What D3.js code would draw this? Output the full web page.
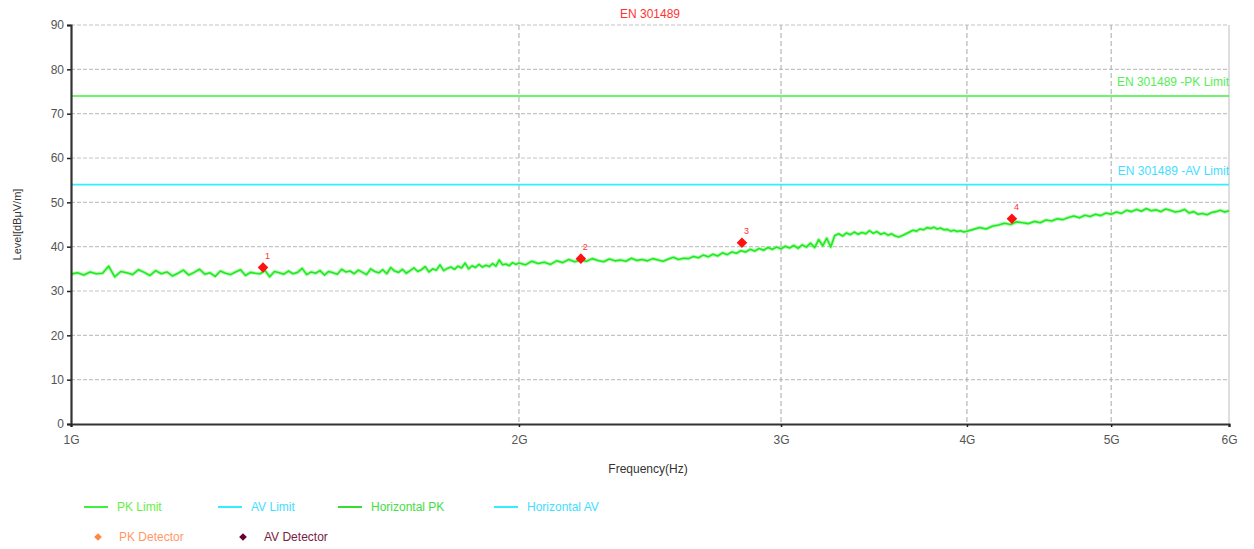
<!DOCTYPE html>
<html>
<head>
<meta charset="utf-8">
<script src="https://cdn.jsdelivr.net/npm/d3@7"></script>
<style>
  body { margin: 0; background: #fff; }
  svg { font-family: "Liberation Sans", Arial, sans-serif; }
</style>
</head>
<body>
<div id="chart"></div>
<script>
// sweep segments: start frequency (MHz), step (MHz) and the levels
const sweep1 = { start: 1000, step: 10 };
const levels1 = [
  33.8, 34.1, 33.6, 34.3, 33.9, 34.0, 35.6, 33.2, 34.4, 34.1,
  33.7, 34.8, 34.2, 33.5, 34.6, 33.9, 34.3, 33.4, 34.0, 34.7,
  33.6, 34.2, 34.9, 33.8, 34.1, 33.3, 34.5, 34.0, 33.7, 34.3,
  34.8, 33.5, 34.2, 34.0, 33.9, 34.6, 33.2, 34.4, 34.1, 33.8,
  34.5, 33.9, 34.2, 35.1, 33.7, 34.3, 34.0, 34.6, 33.6, 34.4,
  34.1, 33.8, 34.9, 34.3, 34.5, 33.9, 34.7, 34.2, 33.7, 35.0,
  34.4, 34.1, 34.8, 33.9, 35.3, 34.5, 34.2, 34.9, 34.0, 34.6,
  35.2, 34.4, 34.8, 35.5, 34.3, 35.0, 34.7, 35.9, 34.6, 35.1,
  35.4, 34.9, 35.6, 35.2, 36.3, 35.0, 35.7, 35.3, 36.0, 35.4,
  35.8, 35.5, 36.2, 35.6, 37.0, 35.9, 36.1, 35.7, 36.4, 36.0
];
const sweep2 = { start: 2000, step: 20 };
const levels2 = [
  36.3, 35.9, 36.7, 36.2, 36.5, 36.0, 36.8, 36.4, 37.1, 36.6,
  37.0, 36.7, 37.3, 36.9, 36.6, 37.2, 36.8, 37.0, 36.7, 37.4,
  36.9, 37.1, 36.8, 37.3, 37.0, 36.7, 37.2, 37.6, 37.1, 37.4,
  37.3, 37.8, 37.5, 38.1, 37.7, 38.3, 37.9, 38.6, 38.2, 38.8,
  38.5, 39.1, 38.8, 39.4, 39.0, 39.6, 39.2, 39.8, 39.4, 39.9,
  39.5, 40.1, 39.7, 40.3, 39.6, 40.4, 39.9, 40.8, 39.8, 41.6,
  40.2, 41.9, 39.9, 42.5, 42.9, 42.4, 43.1, 42.7, 43.3, 42.8,
  43.2, 42.9, 43.6, 43.0, 43.4, 42.8, 43.1, 42.6, 42.9, 42.4,
  42.2, 42.5, 42.9, 43.3, 43.7, 43.5, 44.0, 43.8, 44.3, 44.1,
  44.4, 44.0, 44.2, 43.8, 43.9, 43.5, 43.7, 43.4, 43.6, 43.3
];
const sweep3 = { start: 4000, step: 40 };
const levels3 = [
  43.5, 43.9, 44.3, 44.0, 44.6, 44.9, 45.3, 45.0, 45.6, 45.4,
  45.2, 45.7, 45.4, 46.0, 45.8, 46.3, 46.1, 46.6, 46.9, 46.5,
  47.1, 46.8, 47.3, 47.0, 47.6, 47.3, 47.8, 47.5, 48.2, 47.9,
  48.4, 48.0, 48.6, 48.1, 48.3, 47.9, 48.5, 48.2, 47.8, 48.0,
  48.4, 47.6, 47.9, 47.3, 47.5, 47.2, 47.7, 47.9, 48.2, 47.8, 48.1
];

// limits (dBuV/m)
const pkLimit = 74;
const avLimit = 54;

// peak detector markers
const markerIds = [1, 2, 3, 4];
const markerFreqs = [1346, 2201, 2824, 4288];   // MHz
const markerLevels = [35.3, 37.3, 40.9, 46.3];

const xTicks = [1, 2, 3, 4, 5, 6];               // GHz
const yTicks = [0, 10, 20, 30, 40, 50, 60, 70, 80, 90];

const green = "#3cf03c";
const cyan = "#33eeff";

const W = 1254, H = 549;
const margin = { top: 25, right: 25, bottom: 125, left: 71 };
const w = W - margin.left - margin.right;
const h = H - margin.top - margin.bottom;

const svg = d3.select("#chart").append("svg")
  .attr("width", W).attr("height", H);

const g = svg.append("g")
  .attr("transform", `translate(${margin.left},${margin.top})`);

const x = d3.scaleLog().domain([1e9, 6e9]).range([0, w]);
const y = d3.scaleLinear().domain([0, 90]).range([h, 0]);

// build trace from sweep segments
const trace = [];
[[sweep1, levels1], [sweep2, levels2], [sweep3, levels3]].forEach(([s, lv]) => {
  lv.forEach((v, i) => trace.push({ f: (s.start + i * s.step) * 1e6, v }));
});

// horizontal grid
g.append("g")
  .selectAll("line")
  .data(yTicks.filter(t => t > 0))
  .join("line")
  .attr("x1", 0).attr("x2", w)
  .attr("y1", d => y(d)).attr("y2", d => y(d))
  .attr("stroke", "#c4c4c4")
  .attr("stroke-width", 1.2)
  .attr("stroke-dasharray", "4,2");

// vertical grid
g.append("g")
  .selectAll("line")
  .data(xTicks.filter(t => t > 1 && t < 6))
  .join("line")
  .attr("x1", d => x(d * 1e9)).attr("x2", d => x(d * 1e9))
  .attr("y1", 0).attr("y2", h)
  .attr("stroke", "#a8a8a8")
  .attr("stroke-width", 1)
  .attr("stroke-dasharray", "5,3");

// right border
g.append("line")
  .attr("x1", w).attr("x2", w).attr("y1", 0).attr("y2", h)
  .attr("stroke", "#c8c8c8").attr("stroke-width", 1.2);

// limit lines
g.append("line")
  .attr("x1", 0).attr("x2", w)
  .attr("y1", y(pkLimit)).attr("y2", y(pkLimit))
  .attr("stroke", green).attr("stroke-width", 1.6);
g.append("line")
  .attr("x1", 0).attr("x2", w)
  .attr("y1", y(avLimit)).attr("y2", y(avLimit))
  .attr("stroke", cyan).attr("stroke-width", 1.6);

g.append("text")
  .attr("x", w).attr("y", y(pkLimit) - 10)
  .attr("text-anchor", "end")
  .attr("fill", "#55ee55")
  .style("font-size", "12px")
  .text("EN 301489 -PK Limit");
g.append("text")
  .attr("x", w).attr("y", y(avLimit) - 10)
  .attr("text-anchor", "end")
  .attr("fill", "#44ddff")
  .style("font-size", "12px")
  .text("EN 301489 -AV Limit");

// trace: soft halo plus core line to mimic the dense sweep band
const traceLine = d3.line().x(d => x(d.f)).y(d => y(d.v));
g.append("path")
  .datum(trace)
  .attr("fill", "none")
  .attr("stroke", "#7cf57c")
  .attr("stroke-width", 3.6)
  .attr("stroke-linejoin", "round")
  .attr("opacity", 0.55)
  .attr("d", traceLine);
g.append("path")
  .datum(trace)
  .attr("fill", "none")
  .attr("stroke", "#1fea1f")
  .attr("stroke-width", 1.6)
  .attr("stroke-linejoin", "round")
  .attr("d", traceLine);

// markers
const diamond = d3.symbol().type(d3.symbolSquare).size(56);
const mk = g.append("g")
  .selectAll("g")
  .data(markerIds.map((id, i) => ({ id, f: markerFreqs[i] * 1e6, v: markerLevels[i] })))
  .join("g")
  .attr("transform", d => `translate(${x(d.f)},${y(d.v)})`);
mk.append("path").attr("d", diamond).attr("transform", "rotate(45)").attr("fill", "#ff1111");
mk.append("text")
  .attr("x", 2).attr("y", -9)
  .attr("fill", "#ff3333")
  .style("font-size", "9px")
  .text(d => d.id);

// axes
const yAxis = g.append("g")
  .call(d3.axisLeft(y).tickValues(yTicks).tickSize(4).tickPadding(3));
const xAxis = g.append("g")
  .attr("transform", `translate(0,${h})`)
  .call(d3.axisBottom(x).tickValues(xTicks.map(t => t * 1e9))
    .tickFormat(d => Math.round(d / 1e9) + "G").tickSize(3).tickPadding(8));

[yAxis, xAxis].forEach(a => {
  a.select(".domain").attr("stroke", "#333").attr("stroke-width", 2.2);
  a.selectAll(".tick line").attr("stroke", "#222").attr("stroke-width", 1.5);
  a.selectAll(".tick text")
    .attr("fill", "#555")
    .style("font-size", "12px")
    .style("font-family", "'Liberation Sans', Arial, sans-serif");
});

// title and axis labels
svg.append("text")
  .attr("x", 650).attr("y", 18)
  .attr("text-anchor", "middle")
  .attr("fill", "#ff3333")
  .style("font-size", "12px")
  .text("EN 301489");

svg.append("text")
  .attr("transform", `translate(21,${margin.top + h / 2}) rotate(-90)`)
  .attr("text-anchor", "middle")
  .attr("fill", "#333")
  .style("font-size", "11px")
  .text("Level[dBμV/m]");

svg.append("text")
  .attr("x", 648).attr("y", 473)
  .attr("text-anchor", "middle")
  .attr("fill", "#333")
  .style("font-size", "12px")
  .text("Frequency(Hz)");

// legend
const lineLegend = [
  { name: "PK Limit", color: green, text: "#66ee44", x: 84 },
  { name: "AV Limit", color: cyan, text: "#44ddff", x: 218 },
  { name: "Horizontal PK", color: "#33dd33", text: "#44dd44", x: 338 },
  { name: "Horizontal AV", color: cyan, text: "#44ddff", x: 494 }
];
const lg = svg.append("g")
  .selectAll("g")
  .data(lineLegend)
  .join("g")
  .attr("transform", d => `translate(${d.x},507)`);
lg.append("line")
  .attr("x1", 0).attr("x2", 24)
  .attr("stroke", d => d.color).attr("stroke-width", 2);
lg.append("text")
  .attr("x", 33).attr("dy", "0.35em")
  .attr("fill", d => d.text)
  .style("font-size", "12px")
  .text(d => d.name);

const symLegend = [
  { name: "PK Detector", color: "#ff8844", text: "#ff9966", x: 98 },
  { name: "AV Detector", color: "#660033", text: "#772244", x: 243 }
];
const sl = svg.append("g")
  .selectAll("g")
  .data(symLegend)
  .join("g")
  .attr("transform", d => `translate(${d.x},537)`);
sl.append("path")
  .attr("d", d3.symbol().type(d3.symbolSquare).size(30))
  .attr("transform", "rotate(45)")
  .attr("fill", d => d.color);
sl.append("text")
  .attr("x", 21).attr("dy", "0.35em")
  .attr("fill", d => d.text)
  .style("font-size", "12px")
  .text(d => d.name);
</script>
</body>
</html>
